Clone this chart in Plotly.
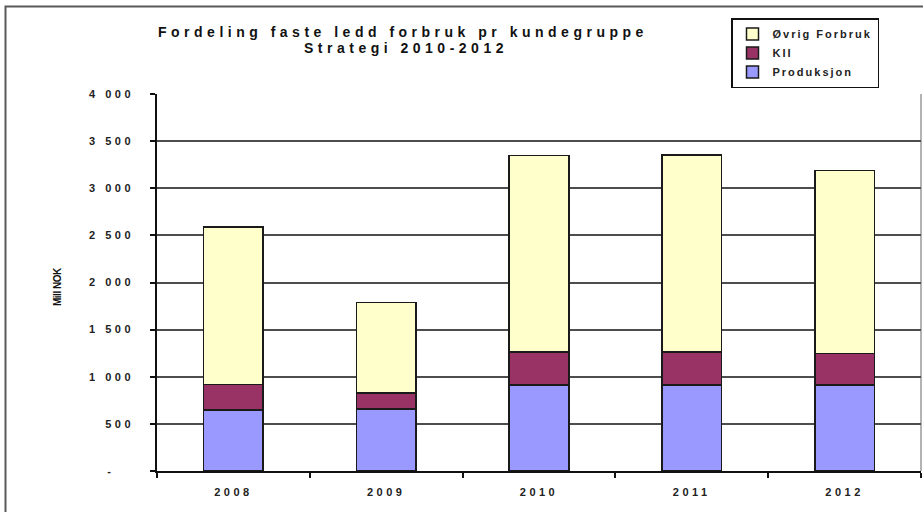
import plotly.graph_objects as go

years = ["2008", "2009", "2010", "2011", "2012"]
produksjon = [645, 660, 915, 915, 915]
kii = [275, 165, 350, 350, 330]
ovrig = [1670, 965, 2080, 2090, 1945]

y_tickvals = [0, 500, 1000, 1500, 2000, 2500, 3000, 3500, 4000]
y_ticktext = ["-&nbsp;&nbsp;&nbsp;", "500", "1 000", "1 500", "2 000", "2 500", "3 000", "3 500", "4 000"]

title_line1 = "Fordeling faste ledd forbruk pr kundegruppe"
title_line2 = "Strategi 2010-2012"
y_title = "Mill NOK"

FONT = "Liberation Sans, Arial, sans-serif"
W, H = 923, 512
L, R, T, B = 157, 2, 94, 41
pw, ph = W - L - R, H - T - B


def px_x(p):
    return (p - L) / pw


def px_y(p):
    return 1 - (p - T) / ph


def spaced(s, sp, bold=True):
    t = f"<span style='letter-spacing:{sp}px'>{s}</span>"
    return f"<b>{t}</b>" if bold else t


fig = go.Figure()
line = dict(color="#1a1a1a", width=1.5)
fig.add_trace(go.Bar(x=years, y=produksjon, name=spaced("Produksjon", 2),
                     marker=dict(color="#9999FF", line=line)))
fig.add_trace(go.Bar(x=years, y=kii, name=spaced("KII", 2),
                     marker=dict(color="#993366", line=line)))
fig.add_trace(go.Bar(x=years, y=ovrig, name=spaced("Øvrig Forbruk", 2),
                     marker=dict(color="#FFFFCC", line=line)))

fig.update_layout(
    width=W, height=H,
    margin=dict(l=L, r=R, t=T, b=B, pad=0, autoexpand=False),
    barmode="stack",
    bargap=0.61,
    plot_bgcolor="white",
    paper_bgcolor="white",
    font=dict(family=FONT, color="#222"),
    showlegend=True,
    legend=dict(
        x=px_x(731), y=px_y(18), xanchor="left", yanchor="top",
        traceorder="reversed",
        bordercolor="#111", borderwidth=1.5,
        bgcolor="white",
        font=dict(family=FONT, size=11, color="#222"),
        tracegroupgap=0,
        itemwidth=30,
    ),
    xaxis=dict(
        tickvals=years,
        ticktext=[spaced(y, 3.5) for y in years],
        showline=True, linecolor="#111", linewidth=1.5,
        ticks="outside", ticklen=5, tickcolor="#111", tickwidth=1.5,
        tickson="boundaries",
        ticklabelstandoff=10,
        tickfont=dict(family=FONT, size=11, color="#222"),
        showgrid=False,
    ),
    yaxis=dict(
        range=[0, 4000],
        tickvals=y_tickvals, ticktext=[spaced(t, 3.5) for t in y_ticktext],
        showline=True, linecolor="#111", linewidth=1.5,
        ticks="outside", ticklen=5, tickcolor="#111", tickwidth=1.5,
        ticklabelstandoff=14,
        tickfont=dict(family=FONT, size=11, color="#222"),
        showgrid=True, gridcolor="#4d4d4d", gridwidth=1.5,
        zeroline=False,
    ),
)

fig.add_annotation(
    text=spaced(title_line1, 4.5),
    xref="paper", yref="paper", x=px_x(403), y=px_y(32),
    showarrow=False, xanchor="center", yanchor="middle",
    font=dict(family=FONT, size=14, color="#111"),
)
fig.add_annotation(
    text=spaced(title_line2, 4.5),
    xref="paper", yref="paper", x=px_x(406), y=px_y(48),
    showarrow=False, xanchor="center", yanchor="middle",
    font=dict(family=FONT, size=14, color="#111"),
)
fig.add_annotation(
    text=spaced(y_title, -0.5),
    xref="paper", yref="paper", x=px_x(57), y=px_y(287),
    showarrow=False, xanchor="center", yanchor="middle", textangle=-90,
    font=dict(family=FONT, size=10, color="#111"),
)
# outer chart frame
fig.add_shape(
    type="rect", xref="paper", yref="paper",
    x0=px_x(5.5), x1=px_x(960), y0=px_y(560), y1=px_y(6.5),
    line=dict(color="#5a5a5a", width=2), layer="below",
)
# plot area right border
fig.add_shape(
    type="line", xref="paper", yref="paper",
    x0=1, x1=1, y0=0, y1=1,
    line=dict(color="#9a9a9a", width=1.5), layer="below",
)

fig.write_html("out.html", config={"displayModeBar": False},
               post_script="document.body.style.margin='0';")
